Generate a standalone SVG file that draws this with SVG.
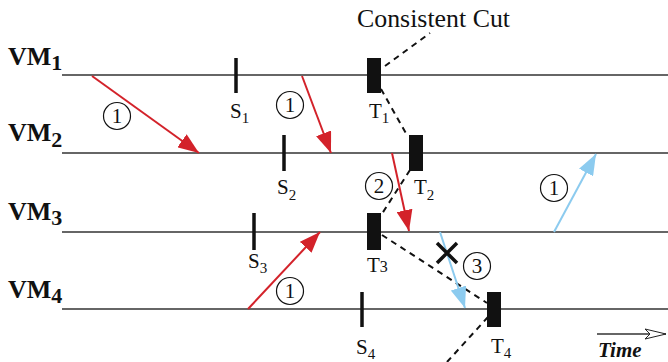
<svg xmlns="http://www.w3.org/2000/svg" width="668" height="362" viewBox="0 0 668 362">
<defs>
<marker id="ar" markerUnits="userSpaceOnUse" markerWidth="22" markerHeight="16" refX="21" refY="8" orient="auto"><path d="M0,0 L21,8 L0,16 z" fill="#d3222a"/></marker>
<marker id="ab" markerUnits="userSpaceOnUse" markerWidth="22" markerHeight="16" refX="21" refY="8" orient="auto"><path d="M0,0 L21,8 L0,16 z" fill="#8ccbef"/></marker>
<marker id="at" markerUnits="userSpaceOnUse" markerWidth="24" markerHeight="12" refX="22" refY="6" orient="auto"><path d="M1,1 L22,6 L1,11 L6,6 z" fill="#fff" stroke="#222" stroke-width="1"/></marker>
</defs>
<style>
text{font-family:'Liberation Serif','Times New Roman',serif;fill:#111}
.vm{font-size:26px;font-weight:bold}
.lab{font-size:21px}
.num{font-size:21px}
.tl{stroke:#666;stroke-width:2;fill:none}
.snap{stroke:#111;stroke-width:3.5}
.ck{fill:#111}
.red{stroke:#d3222a;stroke-width:2;fill:none;marker-end:url(#ar)}
.blue{stroke:#8ccbef;stroke-width:2;fill:none;marker-end:url(#ab)}
.cut{stroke:#111;stroke-width:2;stroke-dasharray:6,5;fill:none}
.circ{fill:none;stroke:#111;stroke-width:1.2}
</style>
<rect width="668" height="362" fill="#fff"/>

<g id="vm1"><text class="vm" x="8" y="65">VM<tspan font-size="22" dy="5">1</tspan></text><line class="tl" x1="62" y1="75" x2="668" y2="75"/></g>
<g id="vm2"><text class="vm" x="8" y="141">VM<tspan font-size="22" dy="6">2</tspan></text><line class="tl" x1="62" y1="153" x2="668" y2="153"/></g>
<g id="vm3"><text class="vm" x="8" y="220">VM<tspan font-size="22" dy="5">3</tspan></text><line class="tl" x1="62" y1="232" x2="668" y2="232"/></g>
<g id="vm4"><text class="vm" x="8" y="298">VM<tspan font-size="22" dy="5">4</tspan></text><line class="tl" x1="62" y1="309" x2="668" y2="309"/></g>

<g id="s1"><line class="snap" x1="236" y1="58" x2="236" y2="93"/><text class="lab" x="230" y="118">S<tspan font-size="15" dy="5">1</tspan></text></g>
<g id="s2"><line class="snap" x1="284" y1="135" x2="284" y2="171"/><text class="lab" x="277" y="194">S<tspan font-size="15" dy="6">2</tspan></text></g>
<g id="s3"><line class="snap" x1="254" y1="213" x2="254" y2="250"/><text class="lab" x="248" y="268">S<tspan font-size="15" dy="5">3</tspan></text></g>
<g id="s4"><line class="snap" x1="362" y1="292" x2="362" y2="327"/><text class="lab" x="356" y="354">S<tspan font-size="15" dy="5">4</tspan></text></g>

<g id="t1"><rect class="ck" x="367" y="58" width="14" height="35"/><text class="lab" x="369" y="118">T<tspan font-size="15" dy="5">1</tspan></text></g>
<g id="t2"><rect class="ck" x="409" y="135" width="14" height="36"/><text class="lab" x="414" y="194">T<tspan font-size="15" dy="6">2</tspan></text></g>
<g id="t3"><rect class="ck" x="367" y="213" width="14" height="37"/><text class="lab" x="367" y="272">T<tspan font-size="16">3</tspan></text></g>
<g id="t4"><rect class="ck" x="487" y="292" width="14" height="35"/><text class="lab" x="491" y="353">T<tspan font-size="15" dy="5">4</tspan></text></g>

<g id="label-cut"><text x="357" y="27" font-size="26" textLength="153" lengthAdjust="spacingAndGlyphs">Consistent Cut</text></g>

<g id="connectors">
<path class="cut" d="M385,66 L430,33"/>
<path class="cut" d="M381,89 L408,137"/>
<path class="cut" d="M410,170 L378,220"/>
<path class="cut" d="M382,235 L487,303"/>
<path class="cut" d="M488,317 L447,362"/>
<line class="red" x1="92" y1="76" x2="199" y2="153"/>
<line class="red" x1="302" y1="76" x2="331" y2="153"/>
<line class="red" x1="392" y1="153" x2="409" y2="231"/>
<line class="red" x1="248" y1="309" x2="320" y2="232"/>
<line class="blue" x1="554" y1="232" x2="596" y2="154"/>
<line class="blue" x1="440" y1="232" x2="465" y2="308"/>
<path d="M437,243 L457,263 M457,243 L437,263" stroke="#111" stroke-width="3.5" fill="none"/>
<line x1="597" y1="334" x2="666" y2="334" stroke="#666" stroke-width="2" marker-end="url(#at)"/>
</g>

<g id="circles">
<circle class="circ" cx="117" cy="116" r="13.5"/><text class="num" x="117" y="123" text-anchor="middle">1</text>
<circle class="circ" cx="290" cy="105" r="13.5"/><text class="num" x="290" y="112" text-anchor="middle">1</text>
<circle class="circ" cx="379" cy="186" r="13.5"/><text class="num" x="379" y="193" text-anchor="middle">2</text>
<circle class="circ" cx="290" cy="291" r="13.5"/><text class="num" x="290" y="298" text-anchor="middle">1</text>
<circle class="circ" cx="477" cy="266" r="13.5"/><text class="num" x="477" y="273" text-anchor="middle">3</text>
<circle class="circ" cx="554" cy="188" r="13.5"/><text class="num" x="554" y="195" text-anchor="middle">1</text>
</g>

<g id="time"><text x="598" y="357" font-size="21" font-weight="bold" font-style="italic">Time</text></g>
</svg>
